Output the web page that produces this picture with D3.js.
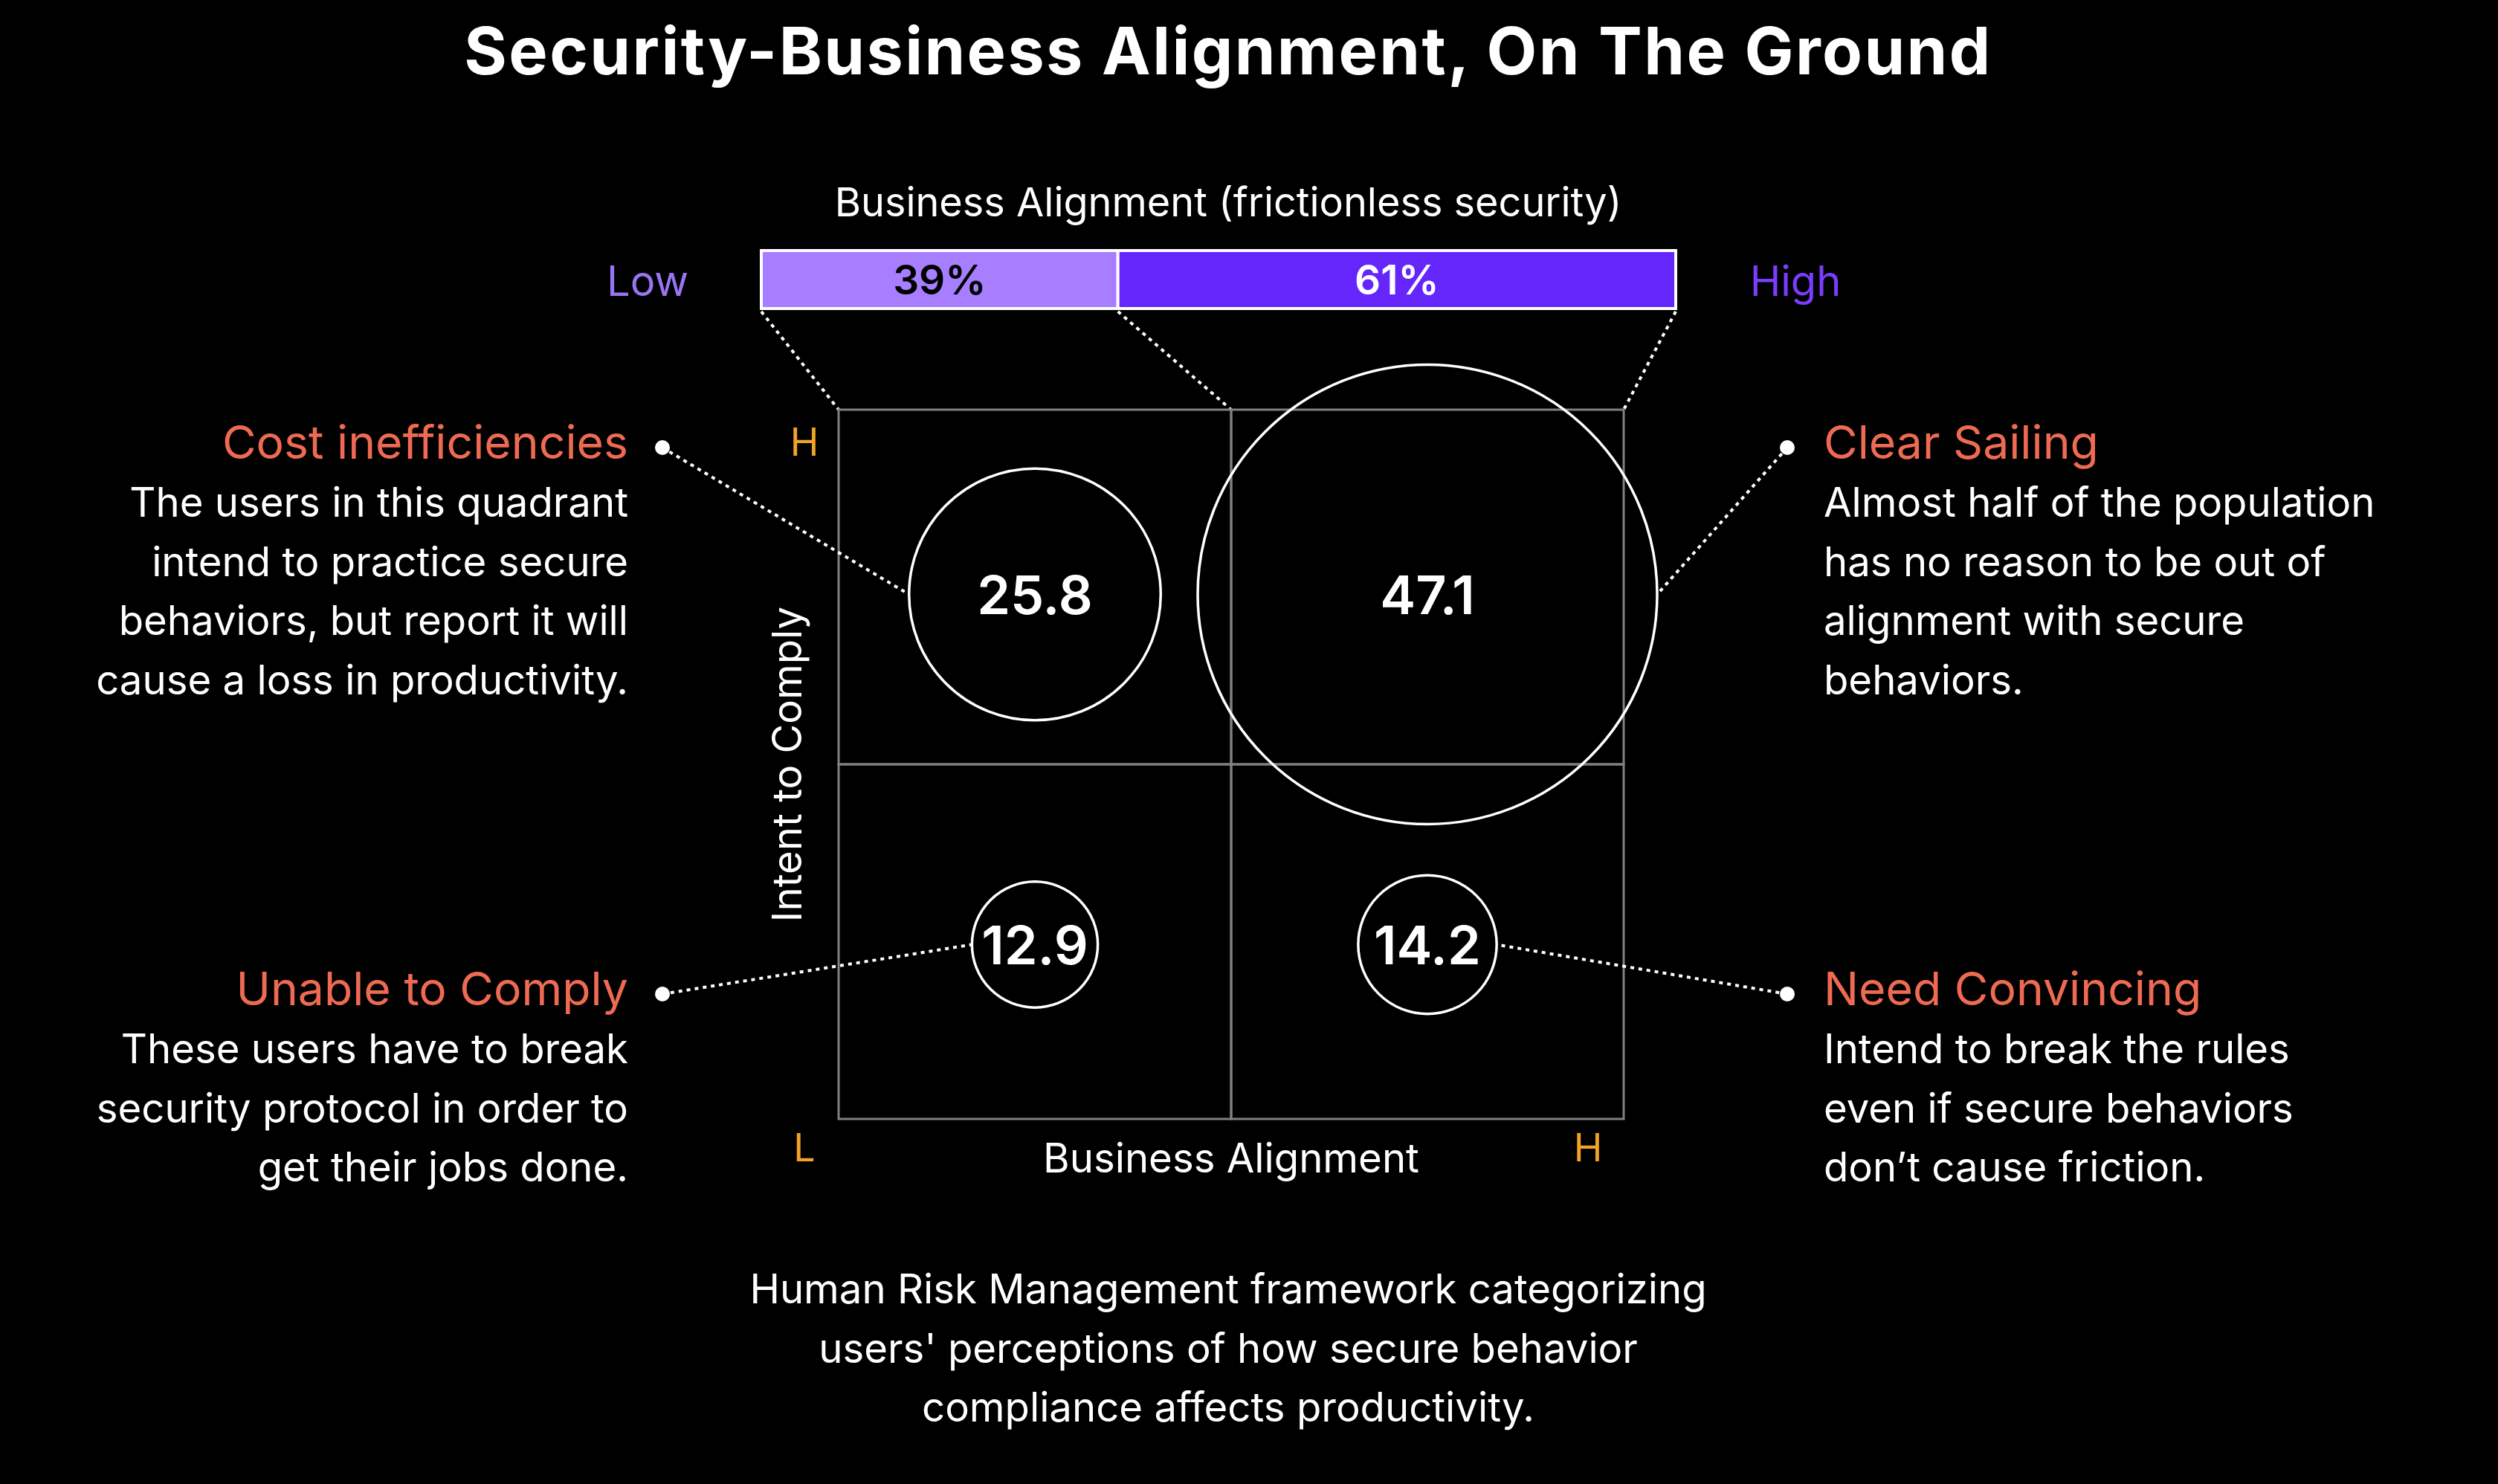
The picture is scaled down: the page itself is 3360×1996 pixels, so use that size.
<!DOCTYPE html>
<html>
<head>
<meta charset="utf-8">
<script src="https://cdn.jsdelivr.net/npm/d3@7"></script>
<style>
  html, body { margin: 0; padding: 0; background: #000; }
  svg { display: block; font-family: Inter, "Noto Sans", sans-serif; }
</style>
</head>
<body>
<div id="chart"></div>
<script>
// Chart data
const title = "Security-Business Alignment, On The Ground";
const barTitle = "Business Alignment (frictionless security)";
const barLabels = ["Low", "High"];
const barShares = [39, 61];

const alignmentLevels = ["L", "H"];
const intentLevels = ["H", "L"];

const quadrantNames = ["Cost inefficiencies", "Clear Sailing", "Unable to Comply", "Need Convincing"];
const quadrantAlignment = ["L", "H", "L", "H"];
const quadrantIntent = ["H", "H", "L", "L"];
const quadrantValues = [25.8, 47.1, 12.9, 14.2];
const quadrantText = [
  ["The users in this quadrant", "intend to practice secure", "behaviors, but report it will", "cause a loss in productivity."],
  ["Almost half of the population", "has no reason to be out of", "alignment with secure", "behaviors."],
  ["These users have to break", "security protocol in order to", "get their jobs done."],
  ["Intend to break the rules", "even if secure behaviors", "don\u2019t cause friction."]
];

const xAxisLabel = "Business Alignment";
const yAxisLabel = "Intent to Comply";
const caption = [
  "Human Risk Management framework categorizing",
  "users' perceptions of how secure behavior",
  "compliance affects productivity."
];

const colors = {
  bg: "#000",
  text: "#ffffff",
  heading: "#ef6a53",
  level: "#f2a227",
  grid: "#808080",
  barLow: "#a67eff",
  barHigh: "#6426fa",
  low: "#9a74f2",
  high: "#7a3cfd"
};

const width = 3360;
const height = 1996;
const centerX = 1652;
const bodySize = 54.5;

const svg = d3.select("#chart")
  .append("svg")
  .attr("width", width)
  .attr("height", height)
  .attr("viewBox", [0, 0, width, height]);

svg.append("rect").attr("width", width).attr("height", height).attr("fill", colors.bg);

// Title
svg.append("text")
  .attr("x", centerX).attr("y", 100)
  .attr("text-anchor", "middle")
  .attr("fill", colors.text)
  .attr("font-size", 88)
  .attr("font-weight", 700)
  .attr("letter-spacing", 2.4)
  .text(title);

// Stacked share bar
const barX = d3.scaleLinear().domain([0, d3.sum(barShares)]).range([1024, 2254]);
const barTop = 337, barH = 78;
const stacked = barShares.map((v, i) => ({
  v, i,
  x0: d3.sum(barShares.slice(0, i)),
  x1: d3.sum(barShares.slice(0, i + 1))
}));

svg.append("text")
  .attr("x", centerX).attr("y", 291)
  .attr("text-anchor", "middle")
  .attr("fill", colors.text)
  .attr("font-size", 54)
  .text(barTitle);

const bar = svg.append("g");
bar.selectAll("rect")
  .data(stacked)
  .join("rect")
  .attr("x", d => barX(d.x0))
  .attr("y", barTop)
  .attr("width", d => barX(d.x1) - barX(d.x0))
  .attr("height", barH)
  .attr("fill", d => d.i === 0 ? colors.barLow : colors.barHigh)
  .attr("stroke", "#fff")
  .attr("stroke-width", 4);

bar.selectAll("text")
  .data(stacked)
  .join("text")
  .attr("x", d => (barX(d.x0) + barX(d.x1)) / 2)
  .attr("y", barTop + barH / 2 + 20)
  .attr("text-anchor", "middle")
  .attr("font-size", 55)
  .attr("font-weight", 600)
  .attr("fill", d => d.i === 0 ? "#000" : "#fff")
  .text(d => d.v + "%");

svg.append("text")
  .attr("x", barX(0) - 153).attr("y", 398)
  .attr("text-anchor", "middle")
  .attr("fill", colors.low)
  .attr("font-size", 56)
  .text(barLabels[0]);

svg.append("text")
  .attr("x", barX(100) + 161).attr("y", 398)
  .attr("text-anchor", "middle")
  .attr("fill", colors.high)
  .attr("font-size", 56)
  .text(barLabels[1]);

// Quadrant grid
const x = d3.scaleBand().domain(alignmentLevels).range([1128, 2184]);
const y = d3.scaleBand().domain(intentLevels).range([551, 1505]);
const r = d3.scaleLinear().domain([0, d3.max(quadrantValues)]).range([0, 309]);

// Dotted links from the bar to the grid
const dotted = "5 6";
const barLinks = [
  [barX(0), x.range()[0]],
  [barX(barShares[0]), x("H")],
  [barX(100), x.range()[1]]
];
svg.append("g")
  .selectAll("line")
  .data(barLinks)
  .join("line")
  .attr("x1", d => d[0]).attr("y1", barTop + barH + 4)
  .attr("x2", d => d[1]).attr("y2", y.range()[0])
  .attr("stroke", "#fff")
  .attr("stroke-width", 4)
  .attr("stroke-dasharray", dotted);

const grid = svg.append("g")
  .attr("fill", "none")
  .attr("stroke", colors.grid)
  .attr("stroke-width", 3);
grid.selectAll("rect")
  .data(d3.cross(alignmentLevels, intentLevels))
  .join("rect")
  .attr("x", d => x(d[0]))
  .attr("y", d => y(d[1]))
  .attr("width", x.bandwidth())
  .attr("height", y.bandwidth());

// Level letters
const levelText = svg.append("g")
  .attr("fill", colors.level)
  .attr("font-size", 52)
  .attr("text-anchor", "middle");
levelText.append("text").attr("x", 1082).attr("y", y("H") + 62).text("H");
levelText.append("text").attr("x", 1082).attr("y", 1562).text("L");
levelText.append("text").attr("x", 2136).attr("y", 1562).text("H");

svg.append("text")
  .attr("x", x("H")).attr("y", 1577)
  .attr("text-anchor", "middle")
  .attr("fill", colors.text)
  .attr("font-size", bodySize)
  .text(xAxisLabel);

svg.append("text")
  .attr("transform", `translate(1078, ${y("L")}) rotate(-90)`)
  .attr("text-anchor", "middle")
  .attr("fill", colors.text)
  .attr("font-size", bodySize)
  .text(yAxisLabel);

// Quadrant records
const quads = quadrantNames.map((name, i) => {
  const cx = x(quadrantAlignment[i]) + x.bandwidth() / 2;
  const cy = y(quadrantIntent[i]) + y.bandwidth() / 2 + (quadrantIntent[i] === "H" ? 10 : 4);
  const left = quadrantAlignment[i] === "L";
  const headY = quadrantIntent[i] === "H" ? 617 : 1352;
  return {
    name, value: quadrantValues[i], lines: quadrantText[i],
    cx, cy, rad: r(quadrantValues[i]), left, headY,
    dotX: left ? 891 : 2404,
    textX: left ? 845 : 2453
  };
});

// Annotation leaders
svg.append("g")
  .selectAll("line")
  .data(quads)
  .join("line")
  .attr("x1", d => d.dotX).attr("y1", d => d.headY - 15)
  .attr("x2", d => d.left ? d.cx - d.rad : d.cx + d.rad)
  .attr("y2", d => d.cy)
  .attr("stroke", "#fff")
  .attr("stroke-width", 4)
  .attr("stroke-dasharray", dotted);

svg.append("g")
  .selectAll("circle")
  .data(quads)
  .join("circle")
  .attr("cx", d => d.dotX).attr("cy", d => d.headY - 15)
  .attr("r", 10)
  .attr("fill", "#fff");

// Bubbles
const bubbles = svg.append("g");
bubbles.selectAll("circle")
  .data(quads)
  .join("circle")
  .attr("cx", d => d.cx).attr("cy", d => d.cy)
  .attr("r", d => d.rad)
  .attr("fill", "none")
  .attr("stroke", "#fff")
  .attr("stroke-width", 3.5);

bubbles.selectAll("text")
  .data(quads)
  .join("text")
  .attr("x", d => d.cx).attr("y", d => d.cy + 26)
  .attr("text-anchor", "middle")
  .attr("fill", "#fff")
  .attr("font-size", 72)
  .attr("font-weight", 600)
  .text(d => d.value);

// Quadrant headings and descriptions
const notes = svg.append("g")
  .selectAll("g")
  .data(quads)
  .join("g");

notes.append("text")
  .attr("x", d => d.textX).attr("y", d => d.headY)
  .attr("text-anchor", d => d.left ? "end" : "start")
  .attr("fill", colors.heading)
  .attr("font-size", 62.5)
  .text(d => d.name);

notes.each(function (d) {
  d3.select(this).selectAll("text.line")
    .data(d.lines)
    .join("text")
    .attr("class", "line")
    .attr("x", d.textX)
    .attr("y", (t, j) => d.headY + 78 + j * 79.5)
    .attr("text-anchor", d.left ? "end" : "start")
    .attr("fill", colors.text)
    .attr("font-size", bodySize)
    .text(t => t);
});

// Caption
svg.append("g")
  .selectAll("text")
  .data(caption)
  .join("text")
  .attr("x", centerX)
  .attr("y", (d, i) => 1753 + i * 79.5)
  .attr("text-anchor", "middle")
  .attr("fill", colors.text)
  .attr("font-size", bodySize)
  .text(d => d);
</script>
</body>
</html>
